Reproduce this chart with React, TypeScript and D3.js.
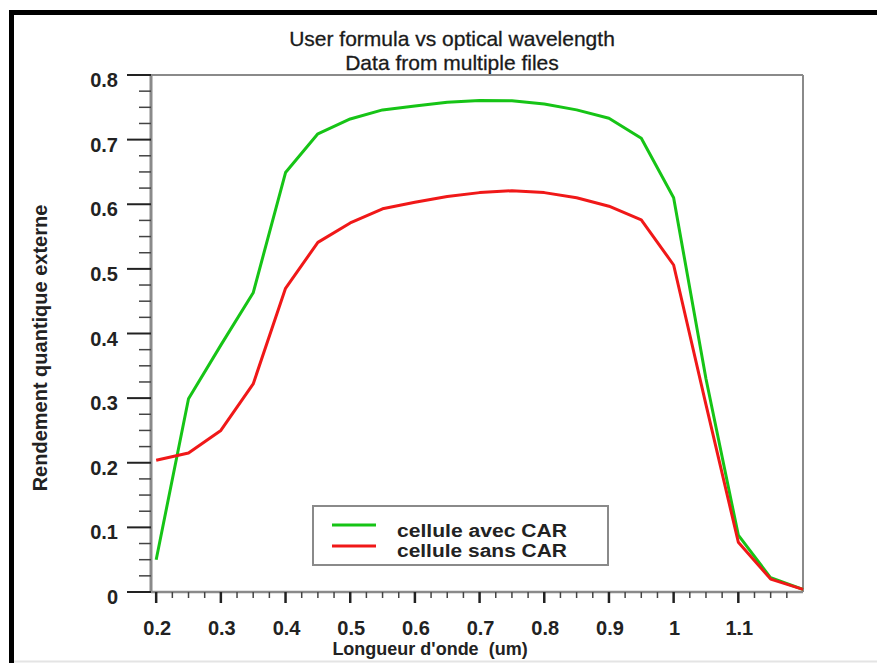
import React from "react";
import * as d3 from "d3";

const wavelengths = [0.2, 0.25, 0.3, 0.35, 0.4, 0.45, 0.5, 0.55, 0.6, 0.65, 0.7, 0.75, 0.8, 0.85, 0.9, 0.95, 1.0, 1.05, 1.1, 1.15, 1.2];
const avecCAR = [0.05, 0.299, 0.382, 0.463, 0.649, 0.709, 0.732, 0.746, 0.752, 0.758, 0.7605, 0.760, 0.755, 0.746, 0.733, 0.702, 0.61, 0.33, 0.088, 0.022, 0.004];
const sansCAR = [0.204, 0.215, 0.25, 0.322, 0.47, 0.541, 0.571, 0.593, 0.603, 0.612, 0.618, 0.621, 0.618, 0.61, 0.597, 0.576, 0.506, 0.29, 0.077, 0.02, 0.004];
const xMajorTicks = [0.2, 0.3, 0.4, 0.5, 0.6, 0.7, 0.8, 0.9, 1.0, 1.1];
const yMajorTicks = [0, 0.1, 0.2, 0.3, 0.4, 0.5, 0.6, 0.7, 0.8];
const seriesNames = ["cellule avec CAR", "cellule sans CAR"];
const seriesColors = ["#16c416", "#f01818"];

const FONT = "'Liberation Sans', Arial, Helvetica, sans-serif";

export default function App() {
  const W = 877, H = 663;
  const x = d3.scaleLinear().domain([0.192, 1.2]).range([151, 803]);
  const y = d3.scaleLinear().domain([0, 0.8]).range([592, 75]);

  const xMinor = d3.range(0, 40).map((i) => 0.2 + i * 0.025).filter((v) => v < 1.19 && !xMajorTicks.some((m) => Math.abs(m - v) < 1e-6));
  const yMinor = d3.range(0, 33).map((i) => i * 0.025).filter((v) => v <= 0.8 + 1e-6 && !yMajorTicks.some((m) => Math.abs(m - v) < 1e-6));

  const line = d3.line<number>().x((_, i) => x(wavelengths[i])).y((d) => y(d));
  const series = [avecCAR, sansCAR];
  const fmt = (v: number) => (v === 0 ? "0" : v === 1 ? "1" : d3.format("~g")(+v.toFixed(2)));

  const [x0, x1] = x.range();
  const [yb, yt] = y.range();

  return (
    <svg width={W} height={H} style={{ position: "absolute", left: 0, top: 0, background: "#fff" }} fontFamily={FONT}>
      <rect x={0} y={0} width={W} height={H} fill="#fff" />
      {/* outer frame */}
      <line x1={11.5} y1={10} x2={11.5} y2={H} stroke="#000" strokeWidth={5} />
      <line x1={9} y1={12.5} x2={W} y2={12.5} stroke="#000" strokeWidth={5} />
      <line x1={14} y1={661.5} x2={W} y2={661.5} stroke="#e4e4e4" strokeWidth={2} />

      {/* title */}
      <text x={452} y={46} textAnchor="middle" fontSize={21} fill="#1a1a1a" stroke="#1a1a1a" strokeWidth={0.3}>User formula vs optical wavelength</text>
      <text x={452} y={70} textAnchor="middle" fontSize={21} fill="#1a1a1a" stroke="#1a1a1a" strokeWidth={0.3}>Data from multiple files</text>

      {/* plot frame */}
      <line x1={x0} y1={yt} x2={x1} y2={yt} stroke="#8a8a8a" strokeWidth={2} />
      <line x1={x1} y1={yt} x2={x1} y2={yb} stroke="#8a8a8a" strokeWidth={2} />
      <line x1={x0} y1={yb} x2={x1} y2={yb} stroke="#8a8a8a" strokeWidth={2.5} />
      <line x1={x0} y1={yt} x2={x0} y2={yb} stroke="#8a8a8a" strokeWidth={3} />

      {/* y ticks */}
      {yMajorTicks.map((v) => (
        <g key={"ym" + v}>
          <line x1={x0 - 24} x2={x0} y1={y(v)} y2={y(v)} stroke="#222" strokeWidth={2} />
          <text x={118} y={y(v) + 12} textAnchor="end" fontSize={20} fontWeight="bold" fill="#222">{fmt(v)}</text>
        </g>
      ))}
      {yMinor.map((v) => (
        <line key={"yn" + v} x1={x0 - 12} x2={x0} y1={y(v)} y2={y(v)} stroke="#444" strokeWidth={1.5} />
      ))}

      {/* x ticks */}
      {xMajorTicks.map((v) => (
        <g key={"xm" + v}>
          <line x1={x(v)} x2={x(v)} y1={yb} y2={yb + 11} stroke="#222" strokeWidth={2.5} />
          <text x={x(v) + 1} y={635} textAnchor="middle" fontSize={20} fontWeight="bold" fill="#222">{fmt(v)}</text>
        </g>
      ))}
      {xMinor.map((v) => (
        <line key={"xn" + v} x1={x(v)} x2={x(v)} y1={yb} y2={yb + 6} stroke="#444" strokeWidth={1.5} />
      ))}

      {/* axis titles */}
      <text x={430} y={655} textAnchor="middle" fontSize={18} fontWeight="bold" fill="#222" xmlSpace="preserve">Longueur d'onde  (um)</text>
      <text transform="translate(47,348) rotate(-90)" textAnchor="middle" fontSize={20} fontWeight="bold" fill="#222">Rendement quantique externe</text>

      {/* series */}
      {series.map((s, i) => (
        <path key={"s" + i} d={line(s) || ""} fill="none" stroke={seriesColors[i]} strokeWidth={3} strokeLinejoin="round" />
      ))}

      {/* legend */}
      <rect x={313} y={506} width={295} height={59} fill="#fff" stroke="#8a8a8a" strokeWidth={2} />
      {seriesNames.map((n, i) => (
        <g key={"lg" + i}>
          <line x1={332} x2={376} y1={525 + i * 21} y2={525 + i * 21} stroke={seriesColors[i]} strokeWidth={3} />
          <text x={397} y={537 + i * 20} fontSize={18} fontWeight="bold" fill="#222" textLength={170} lengthAdjust="spacingAndGlyphs">{n}</text>
        </g>
      ))}
    </svg>
  );
}
